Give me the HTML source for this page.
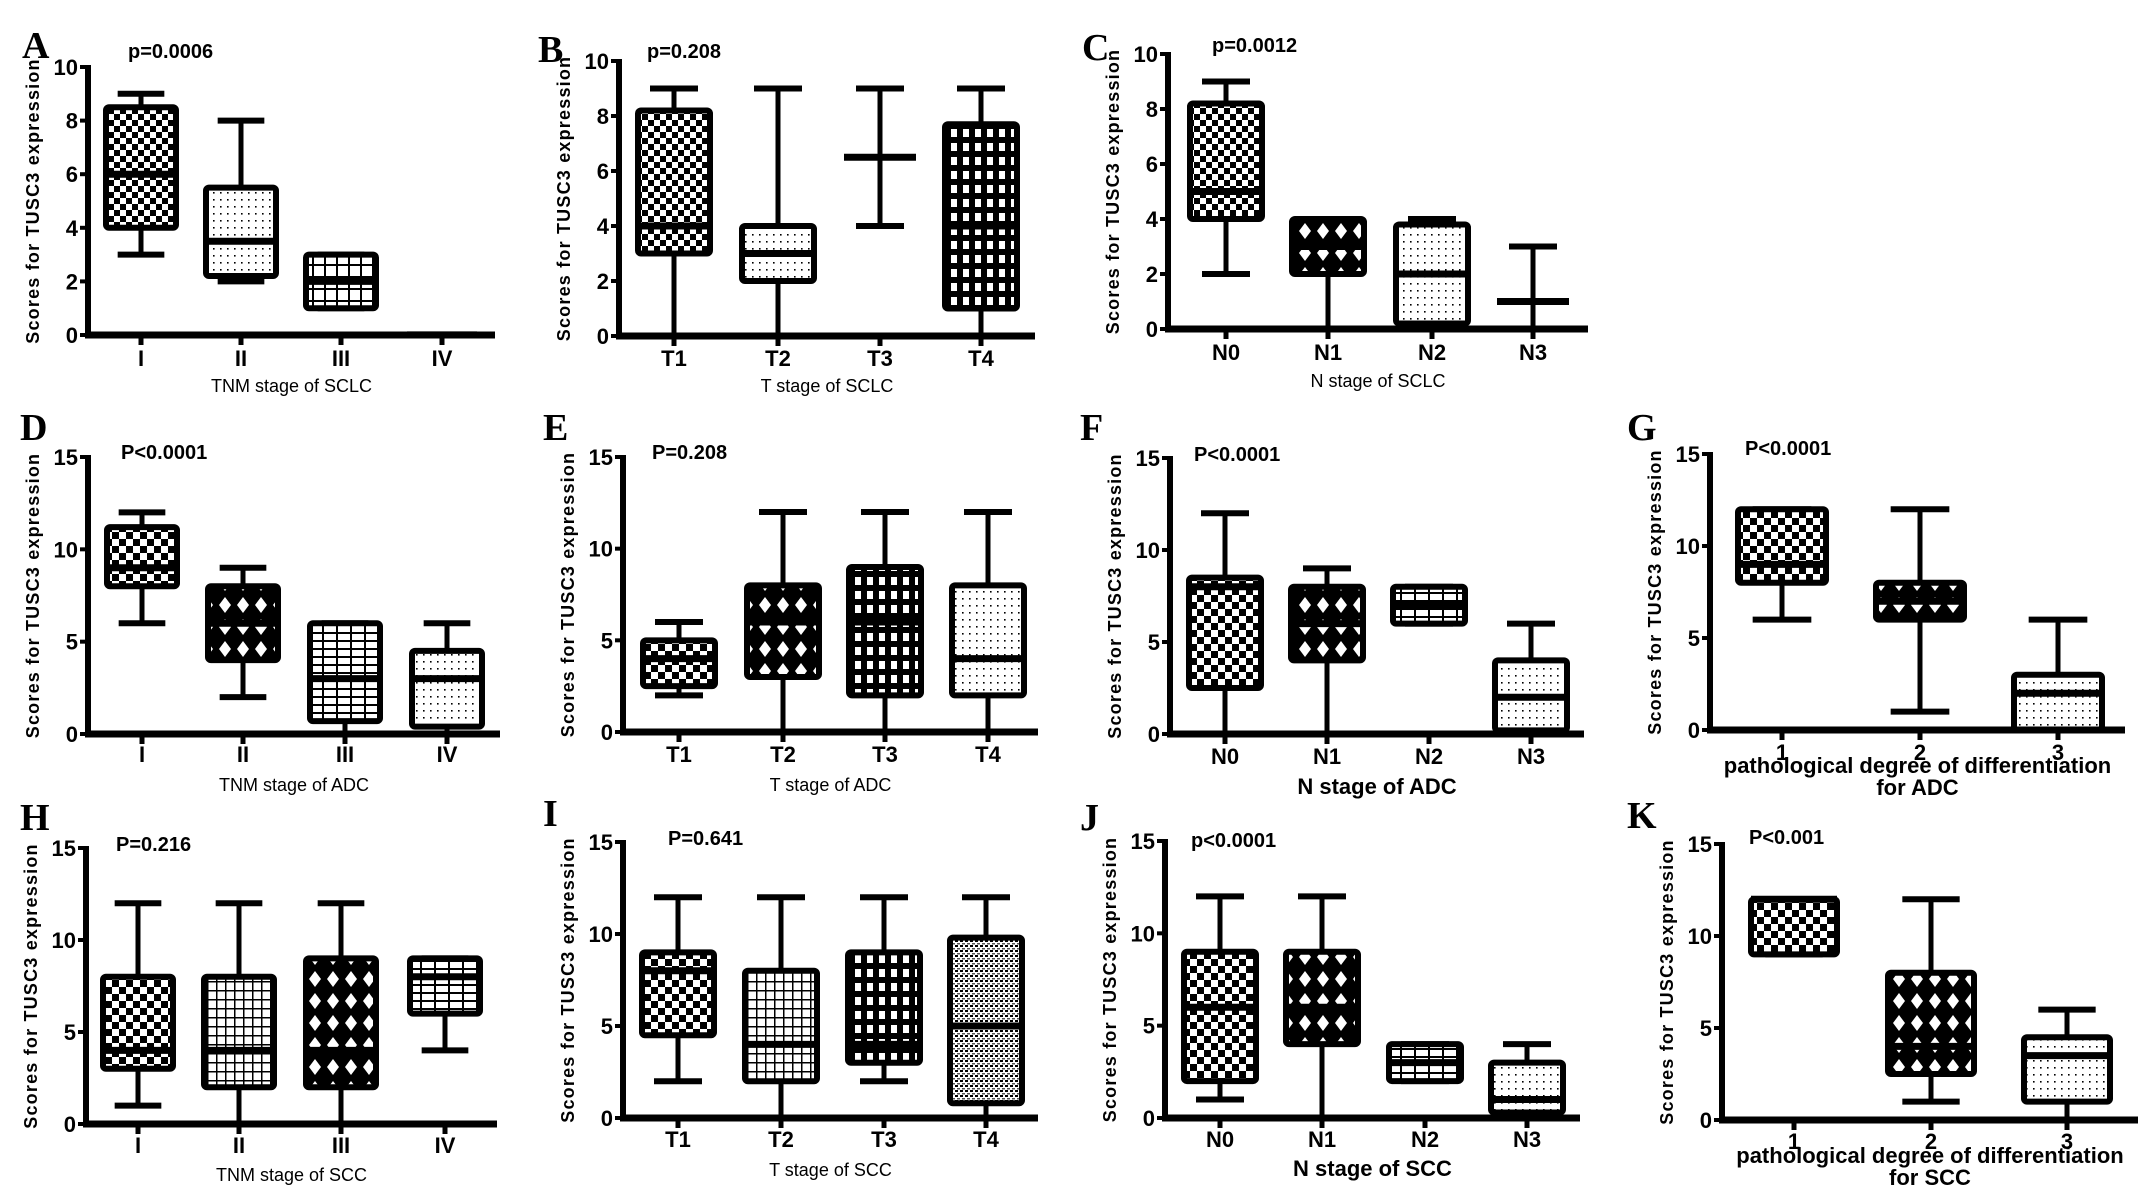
<!DOCTYPE html>
<html><head><meta charset="utf-8"><style>
html,body{margin:0;padding:0;background:#fff}
svg{display:block}
text{font-family:"Liberation Sans",Arial,sans-serif;fill:#000}
</style></head><body>
<svg id="fig" xmlns="http://www.w3.org/2000/svg" width="2145" height="1193" viewBox="0 0 2145 1193">
<defs>
<pattern id="p-checker" width="12" height="12" patternUnits="userSpaceOnUse"><rect width="12" height="12" fill="#fff"/><rect width="6" height="6" fill="#000"/><rect x="6" y="6" width="6" height="6" fill="#000"/></pattern>
<pattern id="p-checker2" width="14" height="14" patternUnits="userSpaceOnUse"><rect width="14" height="14" fill="#fff"/><rect width="7" height="7" fill="#000"/><rect x="7" y="7" width="7" height="7" fill="#000"/></pattern>
<pattern id="p-dots" width="7" height="7" patternUnits="userSpaceOnUse"><rect width="7" height="7" fill="#fff"/><rect x="3" y="3" width="1.6" height="1.6" fill="#000"/></pattern>
<pattern id="p-grid" width="12" height="12" patternUnits="userSpaceOnUse"><rect width="12" height="12" fill="#fff"/><rect width="12" height="2" fill="#000"/><rect width="2" height="12" fill="#000"/></pattern>
<pattern id="p-gridfine" width="9" height="9" patternUnits="userSpaceOnUse"><rect width="9" height="9" fill="#fff"/><rect width="9" height="1.5" fill="#000"/><rect width="1.5" height="9" fill="#000"/></pattern>
<pattern id="p-gridbold" width="12" height="14" patternUnits="userSpaceOnUse"><rect width="12" height="14" fill="#000"/><rect x="3" y="3" width="6" height="8" fill="#fff"/></pattern>
<pattern id="p-diamond" width="18" height="22" patternUnits="userSpaceOnUse"><rect width="18" height="22" fill="#000"/><polygon points="9,3 15,11 9,19 3,11" fill="#fff"/></pattern>
<pattern id="p-brick" width="14" height="8" patternUnits="userSpaceOnUse"><rect width="14" height="8" fill="#fff"/><rect width="14" height="2" fill="#000"/><rect x="0" y="0" width="2" height="8" fill="#000"/></pattern>
<pattern id="p-dense" width="5" height="5" patternUnits="userSpaceOnUse"><rect width="5" height="5" fill="#fff"/><rect width="3" height="2" fill="#000"/><rect x="2" y="3" width="3" height="1.5" fill="#555"/></pattern>
</defs>
</svg>
<script>
// Box data: [min, q1, median, q3, max]
const catsA=["I","II","III","IV"]; const boxesA=[[3,4,6,8.5,9],[2,2.2,3.5,5.5,8],[1,1,2,3,3],[0,0,0,0,0]];
const catsB=["T1","T2","T3","T4"]; const boxesB=[[0,3,4,8.2,9],[0,2,3,4,9],[4,6.5,6.5,6.5,9],[0,1,4,7.7,9]];
const catsC=["N0","N1","N2","N3"]; const boxesC=[[2,4,5,8.2,9],[0,2,3,4,4],[0,0.2,2,3.8,4],[0,1,1,1,3]];
const catsD=["I","II","III","IV"]; const boxesD=[[6,8,9,11.2,12],[2,4,6,8,9],[0,0.7,3,6,6],[0,0.4,3,4.5,6]];
const catsE=["T1","T2","T3","T4"]; const boxesE=[[2,2.5,4,5,6],[0,3,6,8,12],[0,2,6,9,12],[0,2,4,8,12]];
const catsF=["N0","N1","N2","N3"]; const boxesF=[[0,2.5,8,8.5,12],[0,4,6,8,9],[6,6,7,8,8],[0,0.2,2,4,6]];
const catsG=["1","2","3"]; const boxesG=[[6,8,9,12,12],[1,6,7,8,12],[0,0,2,3,6]];
const catsH=["I","II","III","IV"]; const boxesH=[[1,3,4,8,12],[0,2,4,8,12],[0,2,4,9,12],[4,6,8,9,9]];
const catsI=["T1","T2","T3","T4"]; const boxesI=[[2,4.5,8,9,12],[0,2,4,8,12],[2,3,4,9,12],[0,0.8,5,9.8,12]];
const catsJ=["N0","N1","N2","N3"]; const boxesJ=[[1,2,6,9,12],[0,4,6,9,12],[2,2,3,4,4],[0,0.3,1,3,4]];
const catsK=["1","2","3"]; const boxesK=[[9,9,12,12,12],[1,2.5,4,8,12],[0,1,3.5,4.5,6]];
const ticks10=[0,2,4,6,8,10]; const ticks15=[0,5,10,15];
const pvals={A:"p=0.0006",B:"p=0.208",C:"p=0.0012",D:"P<0.0001",E:"P=0.208",F:"P<0.0001",G:"P<0.0001",H:"P=0.216",I:"P=0.641",J:"p<0.0001",K:"P<0.001"};

const NS="http://www.w3.org/2000/svg";
const svg=document.getElementById('fig');
function mk(tag,attrs,parent){const e=document.createElementNS(NS,tag);for(const k in attrs)e.setAttribute(k,attrs[k]);(parent||svg).appendChild(e);return e;}

const panels=[
 {id:"A",cats:catsA,boxes:boxesA,ticks:ticks10,ymax:10,ax:88,yt:67,yb:335,tx:[141,241,341,442],xe:495,bw:70,fills:["checker","dots","grid","none"],title:["TNM  stage of SCLC"],lx:22,ly:58,px:128,py:58,tly:366,tty:392},
 {id:"B",cats:catsB,boxes:boxesB,ticks:ticks10,ymax:10,ax:619,yt:61,yb:336,tx:[674,778,880,981],xe:1035,bw:72,fills:["checker","dots","none","gridbold"],title:["T stage of SCLC"],lx:538,ly:62,px:647,py:58,tly:366,tty:392},
 {id:"C",cats:catsC,boxes:boxesC,ticks:ticks10,ymax:10,ax:1168,yt:54,yb:329,tx:[1226,1328,1432,1533],xe:1588,bw:72,fills:["checker","diamond","dots","none"],title:["N stage of SCLC"],lx:1082,ly:60,px:1212,py:52,tly:360,tty:387},
 {id:"D",cats:catsD,boxes:boxesD,ticks:ticks15,ymax:15,ax:88,yt:457,yb:734,tx:[142,243,345,447],xe:500,bw:70,fills:["checker2","diamond","brick","dots"],title:["TNM stage of ADC"],lx:20,ly:440,px:121,py:459,tly:762,tty:791},
 {id:"E",cats:catsE,boxes:boxesE,ticks:ticks15,ymax:15,ax:623,yt:457,yb:732,tx:[679,783,885,988],xe:1038,bw:72,fills:["checker2","diamond","gridbold","dots"],title:["T stage of ADC"],lx:543,ly:440,px:652,py:459,tly:762,tty:791},
 {id:"F",cats:catsF,boxes:boxesF,ticks:ticks15,ymax:15,ax:1170,yt:458,yb:734,tx:[1225,1327,1429,1531],xe:1584,bw:72,fills:["checker2","diamond","brick","dots"],title:["N stage of ADC"],lx:1080,ly:440,px:1194,py:461,tly:764,tty:794,big:true},
 {id:"G",cats:catsG,boxes:boxesG,ticks:ticks15,ymax:15,ax:1710,yt:454,yb:730,tx:[1782,1920,2058],xe:2125,bw:88,fills:["checker2","diamond","dots"],title:["pathological degree of differentiation","for ADC"],lx:1627,ly:440,px:1745,py:455,tly:760,tty:773,big:true},
 {id:"H",cats:catsH,boxes:boxesH,ticks:ticks15,ymax:15,ax:86,yt:848,yb:1124,tx:[138,239,341,445],xe:497,bw:70,fills:["checker2","gridfine","diamond","brick"],title:["TNM stage of SCC"],lx:20,ly:830,px:116,py:851,tly:1153,tty:1181},
 {id:"I",cats:catsI,boxes:boxesI,ticks:ticks15,ymax:15,ax:623,yt:842,yb:1118,tx:[678,781,884,986],xe:1038,bw:72,fills:["checker2","gridfine","gridbold","dense"],title:["T stage of SCC"],lx:543,ly:826,px:668,py:845,tly:1147,tty:1176},
 {id:"J",cats:catsJ,boxes:boxesJ,ticks:ticks15,ymax:15,ax:1165,yt:841,yb:1118,tx:[1220,1322,1425,1527],xe:1580,bw:72,fills:["checker2","diamond","brick","dots"],title:["N stage of SCC"],lx:1080,ly:830,px:1191,py:847,tly:1147,tty:1176,big:true},
 {id:"K",cats:catsK,boxes:boxesK,ticks:ticks15,ymax:15,ax:1722,yt:844,yb:1120,tx:[1794,1931,2067],xe:2138,bw:86,fills:["checker2","diamond","dots"],title:["pathological degree of differentiation","for SCC"],lx:1627,ly:828,px:1749,py:844,tly:1149,tty:1163,big:true}
];

panels.forEach(p=>{
  const g=mk('g',{});
  
  
  const y=v=>p.yb-(v/p.ymax)*(p.yb-p.yt);
  const L=mk('text',{x:p.lx,y:p.ly,'font-size':38,'font-weight':'bold',style:'font-family:"Liberation Serif",serif'},g);
  L.textContent=p.id;
  
  
  const P=mk('text',{x:p.px,y:p.py,'font-size':20,'font-weight':'bold'},g);
  P.textContent=pvals[p.id];
  
  
  const yc=(p.yt+p.yb)/2;
  const YT=mk('text',{x:p.ax-49,y:yc,'font-size':18,'font-weight':'bold','text-anchor':'middle','letter-spacing':'1.2',transform:`rotate(-90 ${p.ax-49} ${yc})`},g);
  YT.textContent="Scores for TUSC3 expression";
  
  
  p.boxes.forEach((b,i)=>{
    const cx=p.tx[i], w=p.bw;
    const bg=mk('g',{},g);
    
    
    mk('line',{x1:cx,x2:cx,y1:y(b[0]),y2:y(b[4]),stroke:'#000','stroke-width':5},bg);
    mk('line',{x1:cx-w/3,x2:cx+w/3,y1:y(b[4]),y2:y(b[4]),stroke:'#000','stroke-width':6},bg);
    if(b[0]!==b[4]) mk('line',{x1:cx-w/3,x2:cx+w/3,y1:y(b[0]),y2:y(b[0]),stroke:'#000','stroke-width':6},bg);
    if(p.fills[i]!=="none" && b[3]>b[1]){
      mk('rect',{x:cx-w/2,y:y(b[3]),width:w,height:y(b[1])-y(b[3]),fill:'url(#p-'+p.fills[i]+')',stroke:'#000','stroke-width':6,rx:3},bg);
    }
    if(b[4]>0) mk('line',{x1:cx-w/2,x2:cx+w/2,y1:y(b[2]),y2:y(b[2]),stroke:'#000','stroke-width':7},bg);
    else mk('line',{x1:cx-w/2,x2:cx+w/2,y1:y(0)-3,y2:y(0)-3,stroke:'#bbb','stroke-width':2},bg);
  });
  const ax=mk('g',{},g);
  
  
  mk('line',{x1:p.ax,x2:p.ax,y1:p.yt-2,y2:p.yb+3,stroke:'#000','stroke-width':6},ax);
  mk('line',{x1:p.ax-3,x2:p.xe,y1:p.yb,y2:p.yb,stroke:'#000','stroke-width':7},ax);
  p.ticks.forEach(t=>{
    mk('line',{x1:p.ax-8,x2:p.ax,y1:y(t),y2:y(t),stroke:'#000','stroke-width':4},ax);
    const tl=mk('text',{x:p.ax-10,y:y(t)+8,'font-size':22,'font-weight':'bold','text-anchor':'end'},ax);
    tl.textContent=t;
    
    
  });
  p.cats.forEach((c,i)=>{
    mk('line',{x1:p.tx[i],x2:p.tx[i],y1:p.yb,y2:p.yb+10,stroke:'#000','stroke-width':5},ax);
    const tl=mk('text',{x:p.tx[i],y:p.tly,'font-size':22,'font-weight':'bold','text-anchor':'middle'},ax);
    tl.textContent=c;
    
    
  });
  p.title.forEach((t,k)=>{
    const tt=mk('text',{x:(p.ax+p.xe)/2,y:p.tty+k*22,'font-size':p.big?22:18,'font-weight':p.big?'bold':'normal','text-anchor':'middle'},g);
    tt.textContent=t;
    
    
  });
});
</script>
</body></html>
